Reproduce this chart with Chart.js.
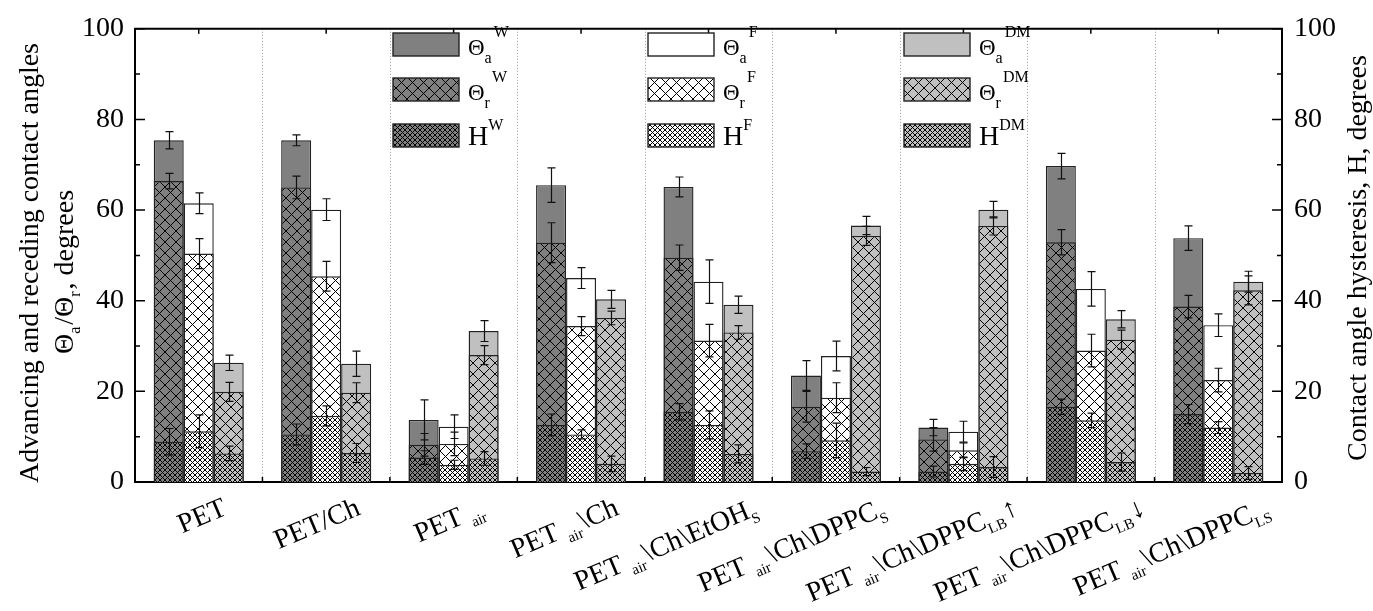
<!DOCTYPE html>
<html>
<head>
<meta charset="utf-8">
<script src="https://cdn.jsdelivr.net/npm/chart.js@4.4.0/dist/chart.umd.min.js"></script>
<style>
html, body { margin: 0; padding: 0; background: #fff; }
#wrap { width: 1373px; height: 611px; }
</style>
</head>
<body>
<div id="wrap"><canvas id="contactChart" width="1373" height="611"></canvas></div>
<script>
// categories (markup: _{..} subscript)
var categories = ['PET', 'PET/Ch', 'PET _{air}', 'PET _{air}\\Ch', 'PET _{air}\\Ch\\EtOH_{S}',
  'PET _{air}\\Ch\\DPPC_{S}', 'PET _{air}\\Ch\\DPPC_{LB}\u2191', 'PET _{air}\\Ch\\DPPC_{LB}\u2193', 'PET _{air}\\Ch\\DPPC_{LS}'];

// water
var wAdv = [75.4, 75.4, 13.7, 65.5, 65.1, 23.5, 12.0, 69.7, 53.8];
var wAdvErr = [1.9, 1.2, 4.4, 3.8, 2.2, 3.3, 1.8, 2.8, 2.7];
var wRec = [66.4, 65.0, 8.2, 52.8, 49.5, 16.6, 9.4, 52.9, 38.7];
var wRecErr = [1.7, 2.5, 2.5, 4.4, 2.8, 3.4, 2.6, 2.8, 2.5];
var wHys = [8.9, 10.5, 5.4, 12.6, 15.5, 6.8, 2.3, 16.6, 15.0];
var wHysErr = [2.9, 2.3, 1.5, 2.4, 1.8, 1.6, 1.2, 1.7, 2.1];
// formamide
var fAdv = [61.5, 60.1, 12.2, 45.0, 44.2, 27.8, 11.1, 42.6, 34.6];
var fAdvErr = [2.3, 2.4, 2.6, 2.3, 4.8, 3.3, 2.3, 3.8, 2.5];
var fRec = [50.4, 45.4, 8.4, 34.4, 31.2, 18.6, 7.0, 29.0, 22.5];
var fRecErr = [3.3, 3.3, 2.6, 2.1, 3.6, 3.3, 1.6, 3.6, 2.6];
var fHys = [11.2, 14.6, 3.8, 10.5, 12.6, 9.2, 4.0, 13.6, 12.0];
var fHysErr = [3.6, 2.2, 1.0, 1.0, 3.1, 3.8, 1.5, 1.6, 1.3];
// diiodomethane
var dAdv = [26.3, 26.1, 33.3, 40.3, 39.1, 56.6, 60.1, 35.9, 44.2];
var dAdvErr = [1.7, 2.8, 2.3, 2.0, 1.9, 2.0, 1.8, 1.9, 2.3];
var dRec = [19.9, 19.7, 28.0, 36.2, 33.0, 54.3, 56.5, 31.4, 42.3];
var dRecErr = [2.1, 2.2, 2.1, 1.5, 1.5, 2.1, 2.0, 2.1, 3.2];
var dHys = [6.3, 6.4, 5.2, 4.0, 6.2, 2.3, 3.3, 4.4, 2.0];
var dHysErr = [1.6, 2.1, 1.5, 1.7, 2.0, 0.9, 2.3, 2.0, 1.4];

var yTicks = [0, 20, 40, 60, 80, 100];

var FONT = '"Liberation Serif", "Times New Roman", serif';
var colW = '#808080', colF = '#ffffff', colD = '#c0c0c0';

function hatch(base, step) {
  var c = document.createElement('canvas');
  c.width = step; c.height = step;
  var g = c.getContext('2d');
  g.fillStyle = base;
  g.fillRect(0, 0, step, step);
  g.strokeStyle = '#000';
  g.lineWidth = 1;
  g.beginPath();
  for (var o = -step; o <= step; o += step) {
    g.moveTo(o, 0); g.lineTo(o + step, step);
    g.moveTo(o, step); g.lineTo(o + step, 0);
  }
  g.stroke();
  return g.createPattern(c, 'repeat');
}

var fills = {
  W: { adv: colW, rec: hatch(colW, 11), hys: hatch(colW, 5) },
  F: { adv: colF, rec: hatch(colF, 11), hys: hatch(colF, 5) },
  DM: { adv: colD, rec: hatch(colD, 11), hys: hatch(colD, 5) }
};

function mk(label, data, errs, fill, stack, order, axis) {
  return {
    label: label, data: data, errors: errs, backgroundColor: fill,
    borderColor: '#222', borderWidth: 1.4, stack: stack, order: order,
    yAxisID: axis, categoryPercentage: 0.706, barPercentage: 1.0
  };
}

var datasets = [
  mk('H W', wHys, wHysErr, fills.W.hys, 'W', 1, 'y2'),
  mk('H F', fHys, fHysErr, fills.F.hys, 'F', 1, 'y2'),
  mk('H DM', dHys, dHysErr, fills.DM.hys, 'DM', 1, 'y2'),
  mk('Θr W', wRec, wRecErr, fills.W.rec, 'W', 2, 'y'),
  mk('Θr F', fRec, fRecErr, fills.F.rec, 'F', 2, 'y'),
  mk('Θr DM', dRec, dRecErr, fills.DM.rec, 'DM', 2, 'y'),
  mk('Θa W', wAdv, wAdvErr, fills.W.adv, 'W', 3, 'y'),
  mk('Θa F', fAdv, fAdvErr, fills.F.adv, 'F', 3, 'y'),
  mk('Θa DM', dAdv, dAdvErr, fills.DM.adv, 'DM', 3, 'y')
];

// rich text helpers
function parseRich(s) {
  var parts = [], re = /_\{([^}]*)\}|\^\{([^}]*)\}/g, last = 0, m;
  while ((m = re.exec(s))) {
    if (m.index > last) parts.push({ t: s.slice(last, m.index), k: 'n' });
    if (m[1] !== undefined) parts.push({ t: m[1], k: 'sub' });
    else parts.push({ t: m[2], k: 'sup' });
    last = re.lastIndex;
  }
  if (last < s.length) parts.push({ t: s.slice(last), k: 'n' });
  return parts;
}
function drawRich(ctx, s, x, y, o, measureOnly) {
  var parts = parseRich(s), cx = x;
  for (var i = 0; i < parts.length; i++) {
    var p = parts[i];
    var size = p.k === 'n' ? o.big : (p.k === 'sub' ? o.sub : o.sup);
    ctx.font = size + 'px ' + FONT;
    var dy = p.k === 'sub' ? o.subDy : (p.k === 'sup' ? o.supDy : 0);
    if (!measureOnly) ctx.fillText(p.t, cx, y + dy);
    cx += ctx.measureText(p.t).width + (p.k === 'sub' ? (o.subGap || 0) : 0);
  }
  return cx - x;
}

var decor = {
  id: 'decor',
  beforeDatasetsDraw: function (chart) {
    var ctx = chart.ctx, a = chart.chartArea, xs = chart.scales.x;
    ctx.save();
    ctx.strokeStyle = '#999';
    ctx.lineWidth = 1;
    ctx.setLineDash([1, 2]);
    for (var k = 1; k < categories.length; k++) {
      var px = Math.round((xs.getPixelForValue(k - 1) + xs.getPixelForValue(k)) / 2) + 0.5;
      ctx.beginPath(); ctx.moveTo(px, a.top); ctx.lineTo(px, a.bottom); ctx.stroke();
    }
    ctx.restore();
  },
  afterDatasetsDraw: function (chart) {
    var ctx = chart.ctx;
    ctx.save();
    ctx.strokeStyle = '#111';
    ctx.lineWidth = 1.2;
    chart.data.datasets.forEach(function (ds, di) {
      var meta = chart.getDatasetMeta(di), sc = chart.scales[ds.yAxisID];
      meta.data.forEach(function (bar, i) {
        var v = ds.data[i], e = ds.errors[i];
        var y1 = sc.getPixelForValue(v + e), y2 = sc.getPixelForValue(v - e), x = Math.round(bar.x) + 0.5;
        ctx.beginPath();
        ctx.moveTo(x, y1); ctx.lineTo(x, y2);
        ctx.moveTo(x - 4, y1); ctx.lineTo(x + 4, y1);
        ctx.moveTo(x - 4, y2); ctx.lineTo(x + 4, y2);
        ctx.stroke();
      });
    });
    ctx.restore();
  },
  afterDraw: function (chart) {
    var ctx = chart.ctx, a = chart.chartArea, xs = chart.scales.x, ys = chart.scales.y;
    ctx.save();
    // frame top
    ctx.strokeStyle = '#000';
    ctx.lineWidth = 2;
    ctx.beginPath(); ctx.moveTo(a.left - 1, a.top); ctx.lineTo(a.right + 1, a.top); ctx.stroke();
    // inward ticks
    ctx.lineWidth = 1.5;
    for (var v = 0; v <= 100; v += 10) {
      var py = ys.getPixelForValue(v), len = v % 20 === 0 ? 10 : 5;
      ctx.beginPath();
      ctx.moveTo(a.left, py); ctx.lineTo(a.left + len, py);
      ctx.moveTo(a.right, py); ctx.lineTo(a.right - len, py);
      ctx.stroke();
    }
    for (var k = 0; k < categories.length; k++) {
      var cxp = xs.getPixelForValue(k);
      ctx.beginPath(); ctx.moveTo(cxp, a.top); ctx.lineTo(cxp, a.top + 5); ctx.stroke();
      if (k > 0) {
        var bx = (xs.getPixelForValue(k - 1) + xs.getPixelForValue(k)) / 2;
        ctx.beginPath(); ctx.moveTo(bx, a.bottom); ctx.lineTo(bx, a.bottom - 5); ctx.stroke();
      }
    }
    ctx.fillStyle = '#000';
    ctx.textBaseline = 'alphabetic';
    ctx.textAlign = 'left';
    // category labels
    var ang = -23 * Math.PI / 180;
    var lo = { big: 28, sub: 15, sup: 15, subDy: 7, supDy: -10, subGap: 1 };
    categories.forEach(function (c, i) {
      var w = drawRich(ctx, c, 0, 0, lo, true);
      var px = xs.getPixelForValue(i) + 22 + 0.15 * w;
      ctx.save();
      ctx.translate(px, 514);
      ctx.rotate(ang);
      drawRich(ctx, c, -w, 0, lo);
      ctx.restore();
    });
    // axis titles
    var to = { big: 28, sub: 16, sup: 16, subDy: 7, supDy: -10, subGap: 2 };
    function vTitle(s, cx, cy, base) {
      var w = drawRich(ctx, s, 0, 0, to, true);
      ctx.save();
      ctx.translate(cx, cy);
      ctx.rotate(-Math.PI / 2);
      drawRich(ctx, s, -w / 2, base, to);
      ctx.restore();
    }
    vTitle('Advancing and receding contact angles', 28, 263, 10);
    vTitle('\u0398_{a}/\u0398_{r}, degrees', 63, 272, 10);
    vTitle('Contact angle hysteresis, H, degrees', 1356, 258, 10);
    // legend
    var cols = [{ x: 393, key: 'W' }, { x: 648, key: 'F' }, { x: 904, key: 'DM' }];
    var rows = [{ y: 33, f: 'adv', txt: '\u0398_{a}^{' }, { y: 78, f: 'rec', txt: '\u0398_{r}^{' }, { y: 124, f: 'hys', txt: 'H^{' }];
    cols.forEach(function (col) {
      rows.forEach(function (r) {
        ctx.fillStyle = fills[col.key][r.f];
        ctx.fillRect(col.x, r.y, 66, 23);
        ctx.strokeStyle = '#222';
        ctx.lineWidth = 1.4;
        ctx.strokeRect(col.x, r.y, 66, 23);
        ctx.fillStyle = '#000';
        if (r.f === 'hys') {
          drawRich(ctx, r.txt + col.key + '}', col.x + 75, r.y + 21, { big: 28, sub: 15, sup: 16, subDy: 8, supDy: -15 });
        } else {
          drawRich(ctx, r.txt + col.key + '}', col.x + 75, r.y + 22, { big: 23, sub: 16, sup: 16, subDy: 8, supDy: -18, subGap: 2 });
        }
      });
    });
    ctx.restore();
  }
};

var tickFont = { family: FONT, size: 28 };

new Chart(document.getElementById('contactChart'), {
  type: 'bar',
  data: { labels: categories, datasets: datasets },
  options: {
    responsive: false,
    devicePixelRatio: 1,
    animation: false,
    layout: { padding: { top: 23, left: 0, right: 0, bottom: 0 } },
    plugins: { legend: { display: false }, tooltip: { enabled: false } },
    scales: {
      x: {
        stacked: true, offset: true,
        grid: { display: false, drawTicks: false },
        border: { display: true, color: '#000', width: 2 },
        ticks: { display: false },
        afterFit: function (s) { s.height = 129; }
      },
      y: {
        stacked: false, position: 'left', min: 0, max: 100,
        grid: { display: false, drawTicks: false },
        border: { display: true, color: '#000', width: 2 },
        ticks: { stepSize: 20, padding: 11, color: '#000', font: tickFont,
          callback: function (v) { return yTicks.indexOf(v) >= 0 ? v : ''; } },
        afterFit: function (s) { s.width = 135; }
      },
      y2: {
        stacked: false, position: 'right', min: 0, max: 100,
        grid: { display: false, drawTicks: false },
        border: { display: true, color: '#000', width: 2 },
        ticks: { stepSize: 20, padding: 12, color: '#000', font: tickFont,
          callback: function (v) { return yTicks.indexOf(v) >= 0 ? v : ''; } },
        afterFit: function (s) { s.width = 91; }
      }
    }
  },
  plugins: [decor]
});
</script>
</body>
</html>
